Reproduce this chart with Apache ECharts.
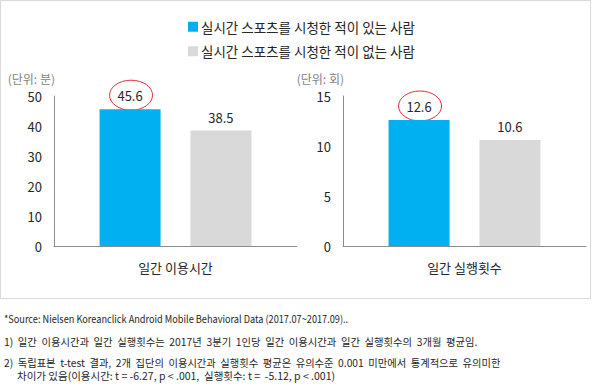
<!DOCTYPE html>
<html>
<head>
<meta charset="utf-8">
<script src="https://cdn.jsdelivr.net/npm/echarts@6/dist/echarts.min.js"></script>
<style>
html,body{margin:0;padding:0;background:#fff;}
#c{width:592px;height:389px;}
</style>
</head>
<body>
<div id="c"></div>
<script>
// ---- data ----
const seriesNames = ['실시간 스포츠를 시청한 적이 있는 사람', '실시간 스포츠를 시청한 적이 없는 사람'];
const leftCategories = ['일간 이용시간'];
const rightCategories = ['일간 실행횟수'];
const timeValues = [45.6, 38.5];   // minutes: watched, not watched
const countValues = [12.6, 10.6];  // launches: watched, not watched
const leftAxis = { min: 0, max: 50, interval: 10 };
const rightAxis = { min: 0, max: 15, interval: 5 };
const unitLabels = ['(단위: 분)', '(단위: 회)'];
const notes = [
  '*Source: Nielsen Koreanclick Android Mobile Behavioral Data (2017.07~2017.09)..',
  '1)  일간  이용시간과  일간  실행횟수는  2017년  3분기  1인당  일간  이용시간과  일간  실행횟수의  3개월  평균임.',
  '2)  독립표본  t-test  결과,  2개  집단의  이용시간과  실행횟수  평균은  유의수준  0.001  미만에서  통계적으로  유의미한',
  '차이가 있음(이용시간: t = -6.27, p < .001,  실행횟수: t =  -5.12, p < .001)'
];

// ---- style ----
const FONT = 'Noto Sans CJK KR';
const colors = ['#00b0f0', '#d9d9d9'];
const axisGray = '#8c8c8c';
const textColor = '#262626';

const chart = echarts.init(document.getElementById('c'), null, { renderer: 'svg' });

function yAxisFor(gridIndex, ax, unit) {
  return {
    type: 'value', gridIndex, min: ax.min, max: ax.max, interval: ax.interval,
    name: unit, nameLocation: 'end', nameGap: 12,
    nameTextStyle: { color: '#7f7f7f', fontSize: 12, fontFamily: FONT, align: 'right', padding: [0, -1, 0, 0] },
    axisLine: { show: true, lineStyle: { color: axisGray, width: 1 } },
    axisTick: { show: false },
    splitLine: { show: false },
    axisLabel: { color: textColor, fontSize: 13, fontFamily: FONT, margin: 12 }
  };
}
function xAxisFor(gridIndex, cats) {
  return {
    type: 'category', gridIndex, data: cats,
    axisLine: { show: true, lineStyle: { color: axisGray, width: 1 } },
    axisTick: { show: false },
    axisLabel: { color: textColor, fontSize: 13, fontFamily: FONT, margin: 15 }
  };
}
function barSeries(name, idx, gridIndex, value) {
  return {
    type: 'bar', name, xAxisIndex: gridIndex, yAxisIndex: gridIndex,
    data: [value], barWidth: 61, barGap: '49%',
    itemStyle: { color: colors[idx] },
    label: { show: true, position: 'top', distance: 7, color: textColor, fontSize: 13, fontFamily: FONT },
    emphasis: { disabled: true }
  };
}

function note(i, left, top, scaleX) {
  return {
    type: 'text', left: left, top: top, scaleX: scaleX || 1, originX: 0,
    style: { text: notes[i], fill: textColor, fontSize: 10.5, fontFamily: FONT, lineHeight: 11 }
  };
}

const option = {
  animation: false,
  textStyle: { fontFamily: FONT },
  legend: {
    orient: 'vertical', left: 188, top: 20, itemGap: 11, padding: 0,
    itemWidth: 10, itemHeight: 10, icon: 'rect',
    textStyle: { color: textColor, fontSize: 13.5, fontFamily: FONT, padding: [0, 0, 0, -2] },
    data: seriesNames
  },
  grid: [
    { left: 54, top: 96, width: 243, height: 150 },
    { left: 343, top: 96, width: 243, height: 150 }
  ],
  xAxis: [xAxisFor(0, leftCategories), xAxisFor(1, rightCategories)],
  yAxis: [yAxisFor(0, leftAxis, unitLabels[0]), yAxisFor(1, rightAxis, unitLabels[1])],
  series: [
    barSeries(seriesNames[0], 0, 0, timeValues[0]),
    barSeries(seriesNames[1], 1, 0, timeValues[1]),
    barSeries(seriesNames[0], 0, 1, countValues[0]),
    barSeries(seriesNames[1], 1, 1, countValues[1])
  ],
  graphic: [
    { type: 'rect', shape: { x: 0.5, y: 0.5, width: 590, height: 298 }, style: { fill: 'none', stroke: '#d9d9d9', lineWidth: 1 }, silent: true },
    note(0, 4, 313, 0.875),
    note(1, 4, 336, 0.985),
    note(2, 4, 357, 0.98),
    note(3, 17, 369.5, 1)
  ]
};
chart.setOption(option);

// red ellipses around the highlighted (first-series) values, placed from the bar layouts
const ellipses = [];
[0, 2].forEach(function (si) {
  try {
    const lay = chart.getModel().getSeriesByIndex(si).getData().getItemLayout(0);
    const cx = lay.x + lay.width / 2;
    const top = Math.min(lay.y, lay.y + lay.height);
    ellipses.push({
      type: 'ellipse', silent: true,
      shape: { cx: cx + 1, cy: top - 14, rx: 21.5, ry: 15 },
      style: { fill: 'none', stroke: '#e0303c', lineWidth: 1 }
    });
  } catch (e) {}
});
if (ellipses.length) {
  chart.setOption({ graphic: option.graphic.concat(ellipses) });
}
</script>
</body>
</html>
